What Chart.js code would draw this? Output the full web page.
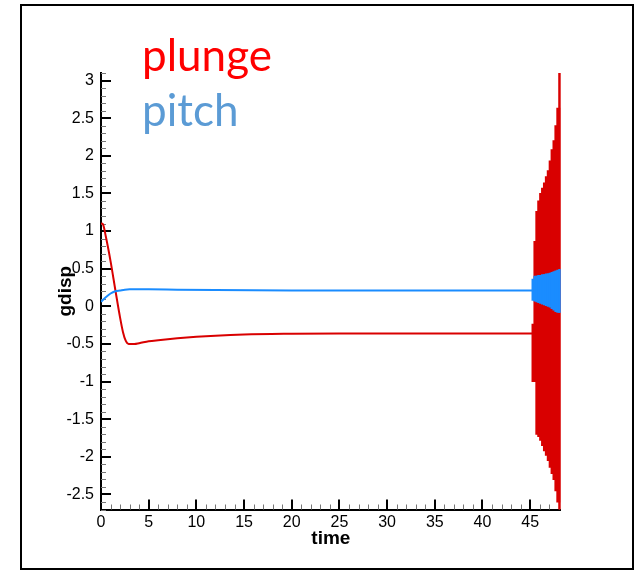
<!DOCTYPE html>
<html>
<head>
<meta charset="utf-8">
<script src="https://cdn.jsdelivr.net/npm/chart.js@4.4.1/dist/chart.umd.min.js"></script>
<style>
  html, body { margin: 0; padding: 0; background: #fff; }
  #wrap { position: relative; width: 636px; height: 571px; }
  #frame { position: absolute; left: 20px; top: 4px; width: 610px; height: 562px; border: 2px solid #000; }
  canvas { position: absolute; left: 0; top: 0; }
  .lbl { position: absolute; font-family: Lato; font-size: 44px; line-height: 1; white-space: nowrap; }
</style>
</head>
<body>
<div id="wrap">
  <div id="frame"></div>
  <canvas id="chart" width="636" height="571"></canvas>
  <div class="lbl" style="left:142px; top:32px; color:#ff0000;">plunge</div>
  <div class="lbl" style="left:142px; top:87px; color:#5b9bd5;">pitch</div>
</div>
<script>
// smooth part of the response
const plungeT = [0, 0.2, 0.5, 1.0, 1.5, 2.0, 2.3, 2.6, 2.9, 3.5, 4, 5, 6, 8, 10, 12, 15, 20, 25, 30, 35, 40, 45.3];
const plungeV = [1.1, 1.09, 0.93, 0.6, 0.22, -0.15, -0.34, -0.46, -0.5, -0.5, -0.49, -0.465, -0.45, -0.425, -0.405, -0.39, -0.375, -0.365, -0.36, -0.36, -0.36, -0.36, -0.36];
const pitchT = [0, 0.5, 1.0, 1.5, 2.0, 2.5, 3, 4, 5, 8, 12, 20, 30, 40, 45.3];
const pitchV = [0.06, 0.12, 0.17, 0.2, 0.21, 0.22, 0.225, 0.225, 0.225, 0.22, 0.215, 0.21, 0.21, 0.21, 0.21];

// oscillating tail (envelope of the fast oscillation)
const oscT     = [45.35, 45.55, 45.75, 45.95, 46.15, 46.35, 46.55, 46.75, 46.95, 47.15, 47.35, 47.55, 47.75, 47.95, 48.15];
const plungeHi = [-0.24, 0.86, 1.26, 1.40, 1.50, 1.57, 1.64, 1.72, 1.80, 1.93, 2.08, 2.2, 2.4, 2.63, 3.12];
const plungeLo = [-1.0, -1.0, -1.70, -1.73, -1.78, -1.85, -1.92, -1.98, -2.05, -2.14, -2.22, -2.3, -2.45, -2.6, -2.7];
const pitchHi  = [0.36, 0.40, 0.40, 0.41, 0.41, 0.42, 0.42, 0.43, 0.43, 0.44, 0.45, 0.46, 0.47, 0.48, 0.49];
const pitchLo  = [0.08, 0.07, 0.06, 0.05, 0.04, 0.03, 0.02, 0.01, 0.0, -0.01, -0.03, -0.05, -0.07, -0.08, -0.08];

const RED = "#d90000";
const BLUE = "#1a8cff";

const toPts = (ts, vs) => ts.map((t, i) => ({ x: t, y: vs[i] }));
const toBars = (ts, lo, hi) => ts.map((t, i) => ({ x: t, y: [lo[i], hi[i]] }));

// tecplot style ticks pointing into the plot
const innerTicks = {
    id: "innerTicks",
    beforeDatasetsDraw(chart){
        const c = chart.ctx;
        const xs = chart.scales.x, ys = chart.scales.y;
        const left = chart.chartArea.left, bottom = chart.chartArea.bottom;
        c.save();
        // minor
        c.strokeStyle = "#777";
        c.lineWidth = 1;
        c.beginPath();
        for(let t = 1; t <= 48; t++){
            if(t % 5 === 0) continue;
            const px = Math.round(xs.getPixelForValue(t)) + 0.5;
            c.moveTo(px, bottom); c.lineTo(px, bottom - 5);
        }
        for(let k = -27; k <= 31; k++){
            if(k % 5 === 0) continue;
            const py = Math.round(ys.getPixelForValue(k / 10)) + 0.5;
            c.moveTo(left, py); c.lineTo(left + 5, py);
        }
        c.stroke();
        // major
        c.strokeStyle = "#000";
        c.lineWidth = 2;
        c.beginPath();
        for(let t = 5; t <= 45; t += 5){
            const px = Math.round(xs.getPixelForValue(t));
            c.moveTo(px, bottom); c.lineTo(px, bottom - 10);
        }
        for(let k = -5; k <= 6; k++){
            const py = Math.round(ys.getPixelForValue(k / 2));
            c.moveTo(left, py); c.lineTo(left + 10, py);
        }
        c.stroke();
        c.restore();
    }
};

const tickFont = { family: "'Liberation Sans', Arial, sans-serif", size: 16 };
const titleFont = { family: "'Liberation Sans', Arial, sans-serif", size: 19, weight: "bold" };
const fmt = v => String(Math.round(v * 10) / 10);

const barOpts = { borderWidth: 0, grouped: false, barThickness: 3, inflateAmount: 0.5 };

new Chart(document.getElementById("chart"), {
    type: "line",
    data: {
        datasets: [
            { type: "line", data: toPts(pitchT, pitchV), borderColor: BLUE, borderWidth: 2, pointRadius: 0, cubicInterpolationMode: "monotone", order: 0 },
            Object.assign({ type: "bar", data: toBars(oscT, pitchLo, pitchHi), backgroundColor: BLUE, order: 1 }, barOpts),
            { type: "line", data: toPts(plungeT, plungeV), borderColor: RED, borderWidth: 2, pointRadius: 0, cubicInterpolationMode: "monotone", order: 2 },
            Object.assign({ type: "bar", data: toBars(oscT, plungeLo, plungeHi), backgroundColor: RED, order: 3 }, barOpts)
        ]
    },
    options: {
        responsive: false,
        animation: false,
        layout: { padding: { top: 73, right: 75.3, left: 0, bottom: 0 } },
        plugins: { legend: { display: false }, tooltip: { enabled: false } },
        scales: {
            x: {
                type: "linear", min: 0, max: 48.2, offset: false,
                grid: { display: false, drawTicks: false },
                border: { display: true, color: "#000", width: 2 },
                ticks: { stepSize: 5, includeBounds: false, color: "#000", font: tickFont, padding: 3, maxRotation: 0, callback: fmt },
                title: { display: true, text: "time", color: "#000", font: titleFont, padding: { top: 0, bottom: 20.5 } },
                afterFit: s => { s.height = 61.5; }
            },
            y: {
                type: "linear", min: -2.7, max: 3.1,
                grid: { display: false, drawTicks: false },
                border: { display: true, color: "#000", width: 2 },
                ticks: { stepSize: 0.5, includeBounds: false, color: "#000", font: tickFont, padding: 7, callback: fmt },
                title: { display: true, text: "gdisp", color: "#000", font: titleFont, padding: { top: 54.5, bottom: 0 } },
                afterFit: s => { s.width = 101; }
            }
        }
    },
    plugins: [innerTicks]
});
</script>
</body>
</html>
